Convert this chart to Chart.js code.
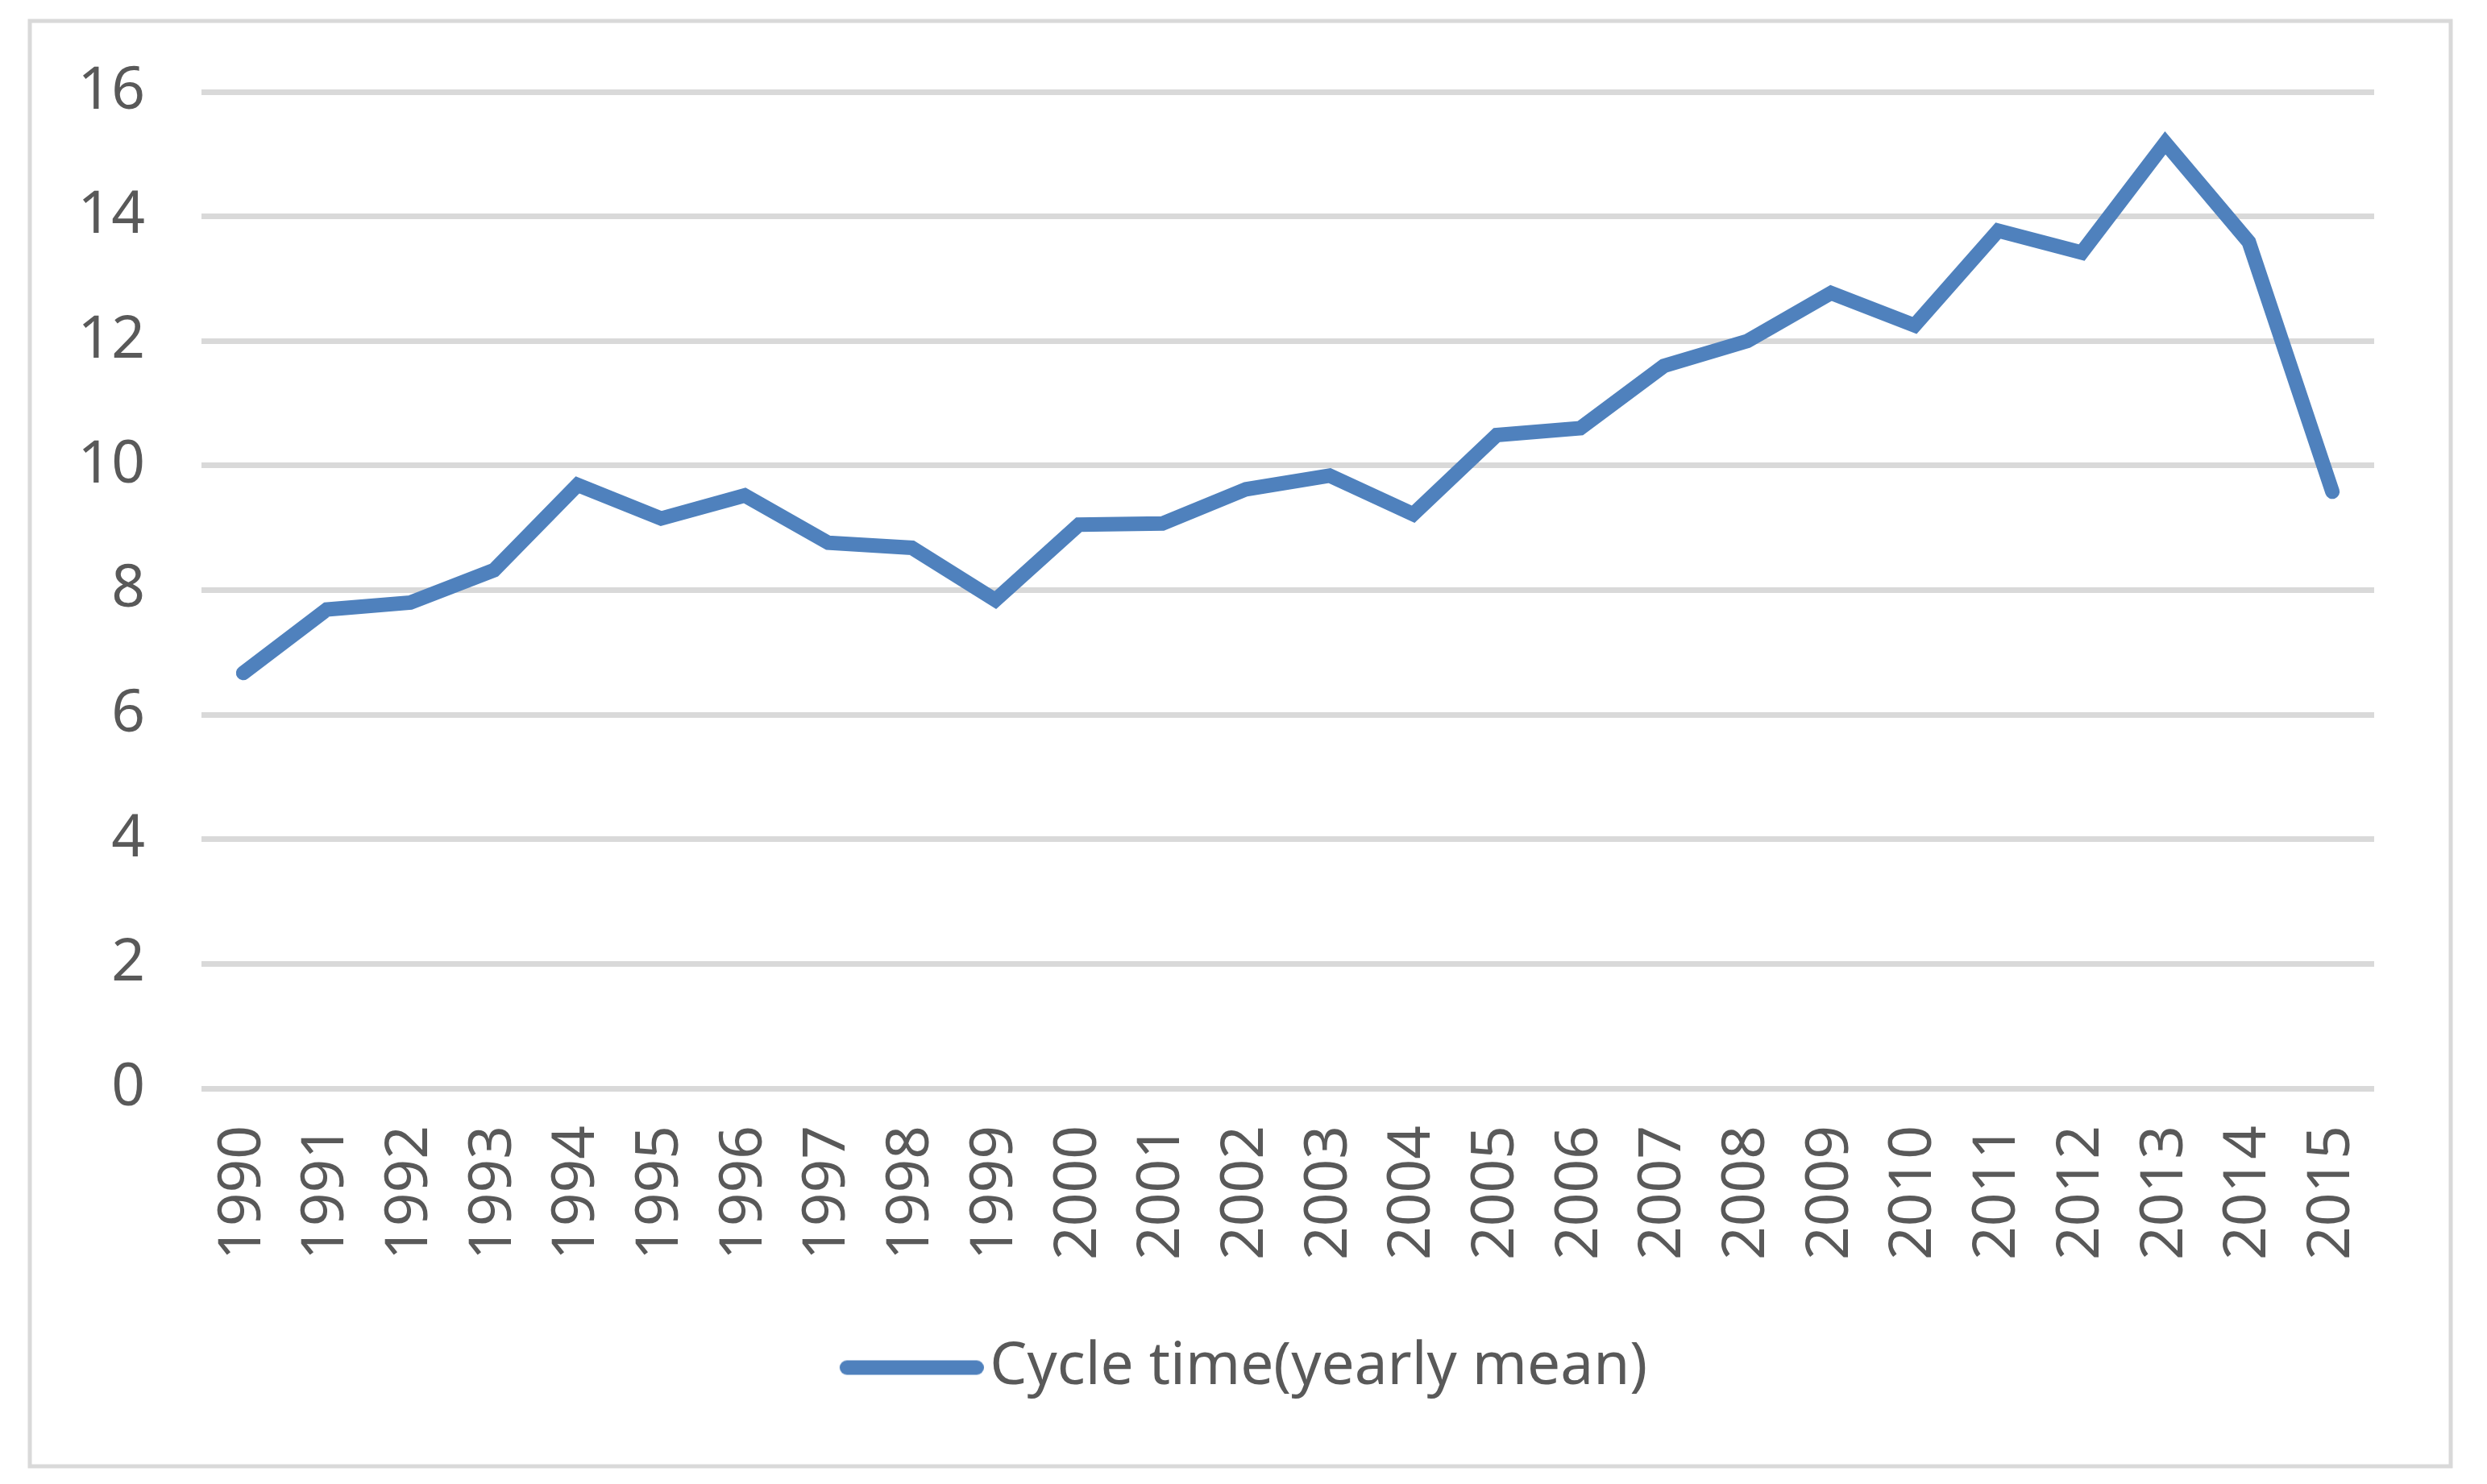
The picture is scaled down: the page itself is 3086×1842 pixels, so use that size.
<!DOCTYPE html>
<html>
<head>
<meta charset="utf-8">
<script src="https://cdn.jsdelivr.net/npm/chart.js@4.4.1/dist/chart.umd.min.js"></script>
<style>
  html, body { margin: 0; padding: 0; background: #ffffff; }
  #wrap { width: 3086px; height: 1842px; position: relative; }
  canvas { display: block; }
</style>
</head>
<body>
<div id="wrap"><canvas id="c" width="3086" height="1842"></canvas></div>
<script>
// ---- data ----
const years = ['1990','1991','1992','1993','1994','1995','1996','1997','1998','1999',
               '2000','2001','2002','2003','2004','2005','2006','2007','2008','2009',
               '2010','2011','2012','2013','2014','2015'];
const cycleTime = [6.67, 7.69, 7.80, 8.32, 9.69, 9.15, 9.52, 8.76, 8.68, 7.84,
                   9.05, 9.07, 9.62, 9.84, 9.22, 10.49, 10.60, 11.60, 12.00, 12.77,
                   12.25, 13.77, 13.42, 15.18, 13.59, 9.58];
const seriesLabel = 'Cycle time(yearly mean)';
const yTickMin = 0;
const yTickMax = 16;
const yTickStep = 2;

// ---- style ----
const LINE_COLOR = '#4f81bd';
const TEXT_COLOR = '#595959';
const GRID_COLOR = '#d9d9d9';
const FONT = '"Noto Sans", "DejaVu Sans", sans-serif';

// legend symbol: a thick round-capped line, drawn a little closer to the text
function makeLegendLine() {
  const c = document.createElement('canvas');
  c.width = 208; c.height = 22;
  const g = c.getContext('2d');
  g.strokeStyle = LINE_COLOR;
  g.lineWidth = 18;
  g.lineCap = 'round';
  g.beginPath();
  g.moveTo(38, 11);
  g.lineTo(199, 11);
  g.stroke();
  return c;
}
const legendLine = makeLegendLine();

const frame = {
  id: 'frame',
  beforeDraw(chart) {
    const ctx = chart.ctx;
    ctx.save();
    ctx.fillStyle = '#ffffff';
    ctx.fillRect(0, 0, chart.width, chart.height);
    ctx.strokeStyle = GRID_COLOR;
    ctx.lineWidth = 5;
    ctx.strokeRect(37, 26, 3004, 1794);
    ctx.restore();
  }
};

// keep the legend centred on the whole picture
const centreLegend = {
  id: 'centreLegend',
  afterLayout(chart) {
    const lg = chart.legend;
    if (lg) {
      lg.left = 140;
      lg.right = 2946;
      lg.width = lg.right - lg.left;
    }
  }
};

new Chart(document.getElementById('c'), {
  type: 'line',
  data: {
    labels: years,
    datasets: [{
      label: seriesLabel,
      data: cycleTime,
      borderColor: LINE_COLOR,
      backgroundColor: LINE_COLOR,
      borderWidth: 18,
      borderCapStyle: 'round',
      borderJoinStyle: 'miter',
      pointRadius: 0,
      pointHoverRadius: 0,
      tension: 0,
      fill: false
    }]
  },
  options: {
    responsive: false,
    animation: false,
    devicePixelRatio: 1,
    layout: { padding: { left: 0, right: 140, top: 114, bottom: 98 } },
    plugins: {
      tooltip: { enabled: false },
      legend: {
        position: 'bottom',
        labels: {
          font: { family: FONT, size: 73 },
          color: TEXT_COLOR,
          usePointStyle: true,
          pointStyleWidth: 150,
          boxHeight: 18,
          padding: 10,
          generateLabels: (chart) => chart.data.datasets.map((ds, i) => ({
            text: ds.label,
            fillStyle: ds.borderColor,
            strokeStyle: ds.borderColor,
            lineWidth: 18,
            pointStyle: legendLine,
            hidden: false,
            datasetIndex: i,
            fontColor: TEXT_COLOR
          }))
        }
      }
    },
    scales: {
      x: {
        offset: true,
        grid: { display: false, drawTicks: false, offset: true },
        border: { display: false },
        ticks: {
          autoSkip: false,
          minRotation: 90,
          maxRotation: 90,
          padding: 46,
          color: TEXT_COLOR,
          font: { family: FONT, size: 73 }
        },
        afterFit: (s) => { s.height = 300; }
      },
      y: {
        min: yTickMin,
        max: yTickMax,
        grid: { color: GRID_COLOR, lineWidth: 7, drawTicks: false },
        border: { display: false },
        ticks: {
          stepSize: yTickStep,
          padding: 70,
          color: TEXT_COLOR,
          font: { family: FONT, size: 73 }
        },
        afterFit: (s) => { s.width = 250; }
      }
    }
  },
  plugins: [frame, centreLegend]
});
</script>
</body>
</html>
